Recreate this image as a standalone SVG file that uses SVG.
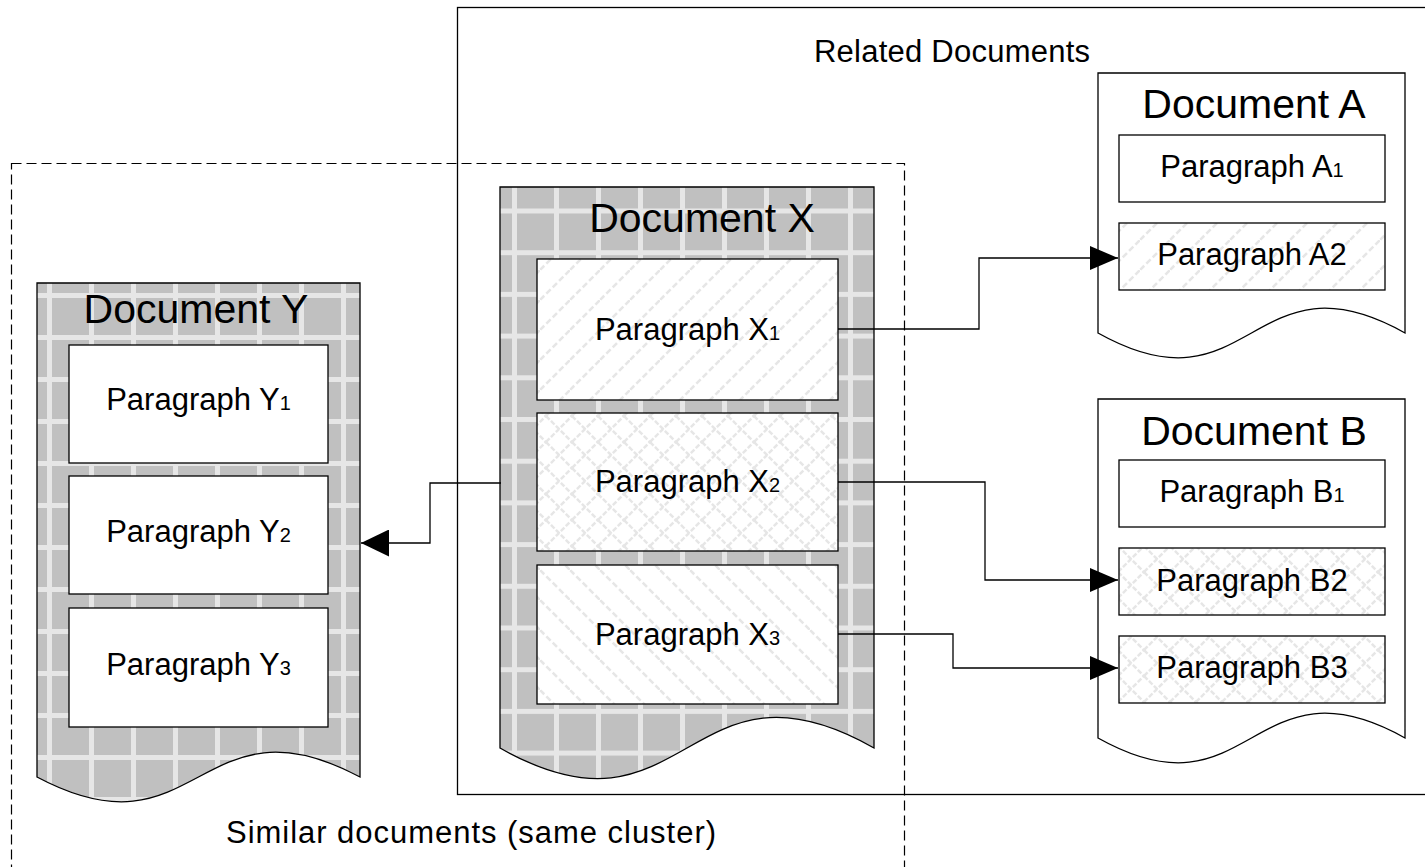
<svg xmlns="http://www.w3.org/2000/svg" width="1425" height="867" viewBox="0 0 1425 867">
  <style>
    text { font-family: "Liberation Sans", Arial, sans-serif; fill: #000; }
    .title { font-size: 41px; text-anchor: middle; }
    .para { font-size: 31px; text-anchor: middle; }
    .sub { font-size: 20px; }
    .label { font-size: 31px; text-anchor: middle; }
    .box { stroke: #000; stroke-width: 1.3; }
    .doc { stroke: #000; stroke-width: 1.3; }
    .frame { fill: none; stroke: #000; stroke-width: 1.3; }
    .cluster { fill: none; stroke: #000; stroke-width: 1.2; stroke-dasharray: 10 5; }
    .conn { fill: none; stroke: #000; stroke-width: 1.3; }
  </style>
  <defs>
    <!-- gray plaid used for the cluster documents -->
    <pattern id="plaidX" patternUnits="userSpaceOnUse" x="0" y="0" width="42" height="41.7">
      <rect width="42" height="41.7" fill="#c0c0c0"/>
      <rect x="8" y="0" width="5" height="41.7" fill="#e6e6e6"/>
      <rect x="0" y="0" width="42" height="5" fill="#e6e6e6"/>
    </pattern>
    <pattern id="plaidY" patternUnits="userSpaceOnUse" x="0" y="0" width="42" height="42">
      <rect width="42" height="42" fill="#c0c0c0"/>
      <rect x="5" y="0" width="5" height="42" fill="#e6e6e6"/>
      <rect x="0" y="41" width="42" height="5" fill="#e6e6e6"/>
      <rect x="0" y="-1" width="42" height="5" fill="#e6e6e6"/>
    </pattern>
    <!-- light hatching for paragraph boxes -->
    <pattern id="hatchUp" patternUnits="userSpaceOnUse" width="30" height="30">
      <rect width="30" height="30" fill="#fff"/>
      <path d="M-6 6 L6 -6 M0 30 L30 0 M24 36 L36 24" stroke="#e6e6e6" stroke-width="2.5" stroke-dasharray="6 3"/>
    </pattern>
    <pattern id="hatchDown" patternUnits="userSpaceOnUse" width="30" height="30">
      <rect width="30" height="30" fill="#fff"/>
      <path d="M-6 24 L6 36 M0 0 L30 30 M24 -6 L36 6" stroke="#e6e6e6" stroke-width="2.5" stroke-dasharray="6 3"/>
    </pattern>
    <pattern id="lattice" patternUnits="userSpaceOnUse" width="26" height="26">
      <rect width="26" height="26" fill="#fff"/>
      <path d="M0 0 L26 26 M0 26 L26 0" stroke="#e6e6e6" stroke-width="2.4" stroke-dasharray="5 2"/>
    </pattern>
    <marker id="arrow" markerUnits="userSpaceOnUse" viewBox="0 0 28 24" refX="28" refY="12" markerWidth="28" markerHeight="24" orient="auto">
      <path d="M0 0 L28 12 L0 24 Z" fill="#000"/>
    </marker>
    <marker id="arrowWide" markerUnits="userSpaceOnUse" viewBox="0 0 28 27" refX="28" refY="13.5" markerWidth="28" markerHeight="27" orient="auto">
      <path d="M0 0 L28 13.5 L0 27 Z" fill="#000"/>
    </marker>
  </defs>

  <rect width="1425" height="867" fill="#fff"/>

  <!-- grouping frames -->
  <g id="related-frame">
    <rect class="frame" x="457.5" y="7.5" width="990" height="787"/>
    <text class="label" x="952" y="62" textLength="276" lengthAdjust="spacing">Related Documents</text>
  </g>
  <g id="cluster-frame">
    <rect class="cluster" x="11.5" y="163.5" width="893" height="730"/>
    <text class="label" x="471" y="843" textLength="490" lengthAdjust="spacing">Similar documents (same cluster)</text>
  </g>

  <!-- Document Y -->
  <g id="doc-y">
    <path class="doc" fill="url(#plaidY)" d="M37 283 H360 V777 C198.5 691 198.5 863 37 777 Z"/>
    <text class="title" x="196" y="323">Document Y</text>
    <g id="para-y1">
      <rect class="box" x="69" y="345" width="259" height="118" fill="#fff"/>
      <text class="para" x="198.5" y="410">Paragraph Y<tspan class="sub">1</tspan></text>
    </g>
    <g id="para-y2">
      <rect class="box" x="69" y="476" width="259" height="118" fill="#fff"/>
      <text class="para" x="198.5" y="542">Paragraph Y<tspan class="sub">2</tspan></text>
    </g>
    <g id="para-y3">
      <rect class="box" x="69" y="608" width="259" height="119" fill="#fff"/>
      <text class="para" x="198.5" y="675">Paragraph Y<tspan class="sub">3</tspan></text>
    </g>
  </g>

  <!-- Document X -->
  <g id="doc-x">
    <path class="doc" fill="url(#plaidX)" d="M500 187 H874 V748 C687 642 687 854 500 748 Z"/>
    <text class="title" x="702" y="232">Document X</text>
    <g id="para-x1">
      <rect class="box" x="537" y="259" width="301" height="141" fill="url(#hatchUp)"/>
      <text class="para" x="687.5" y="340">Paragraph X<tspan class="sub">1</tspan></text>
    </g>
    <g id="para-x2">
      <rect class="box" x="537" y="413" width="301" height="138" fill="url(#lattice)"/>
      <text class="para" x="687.5" y="492">Paragraph X<tspan class="sub">2</tspan></text>
    </g>
    <g id="para-x3">
      <rect class="box" x="537" y="565" width="301" height="139" fill="url(#hatchDown)"/>
      <text class="para" x="687.5" y="645">Paragraph X<tspan class="sub">3</tspan></text>
    </g>
  </g>

  <!-- Document A -->
  <g id="doc-a">
    <path class="doc" fill="#fff" d="M1098 73 H1405 V333 C1251.5 247 1251.5 419 1098 333 Z"/>
    <text class="title" x="1254" y="118">Document A</text>
    <g id="para-a1">
      <rect class="box" x="1119" y="135" width="266" height="67" fill="#fff"/>
      <text class="para" x="1252" y="177">Paragraph A<tspan class="sub">1</tspan></text>
    </g>
    <g id="para-a2">
      <rect class="box" x="1119" y="223" width="266" height="67" fill="url(#hatchUp)"/>
      <text class="para" x="1252" y="265">Paragraph A2</text>
    </g>
  </g>

  <!-- Document B -->
  <g id="doc-b">
    <path class="doc" fill="#fff" d="M1098 399 H1405 V738 C1251.5 652 1251.5 824 1098 738 Z"/>
    <text class="title" x="1254" y="445">Document B</text>
    <g id="para-b1">
      <rect class="box" x="1119" y="460" width="266" height="67" fill="#fff"/>
      <text class="para" x="1252" y="502">Paragraph B<tspan class="sub">1</tspan></text>
    </g>
    <g id="para-b2">
      <rect class="box" x="1119" y="548" width="266" height="67" fill="url(#lattice)"/>
      <text class="para" x="1252" y="591">Paragraph B2</text>
    </g>
    <g id="para-b3">
      <rect class="box" x="1119" y="636" width="266" height="67" fill="url(#lattice)"/>
      <text class="para" x="1252" y="678">Paragraph B3</text>
    </g>
  </g>

  <!-- connectors -->
  <g id="connectors">
    <path class="conn" d="M838 329 H979 V258 H1118" marker-end="url(#arrow)"/>
    <path class="conn" d="M501 483 H430 V543 H361" marker-end="url(#arrowWide)"/>
    <path class="conn" d="M838 482 H985 V580 H1118" marker-end="url(#arrow)"/>
    <path class="conn" d="M838 634 H953 V668 H1118" marker-end="url(#arrow)"/>
  </g>
</svg>
